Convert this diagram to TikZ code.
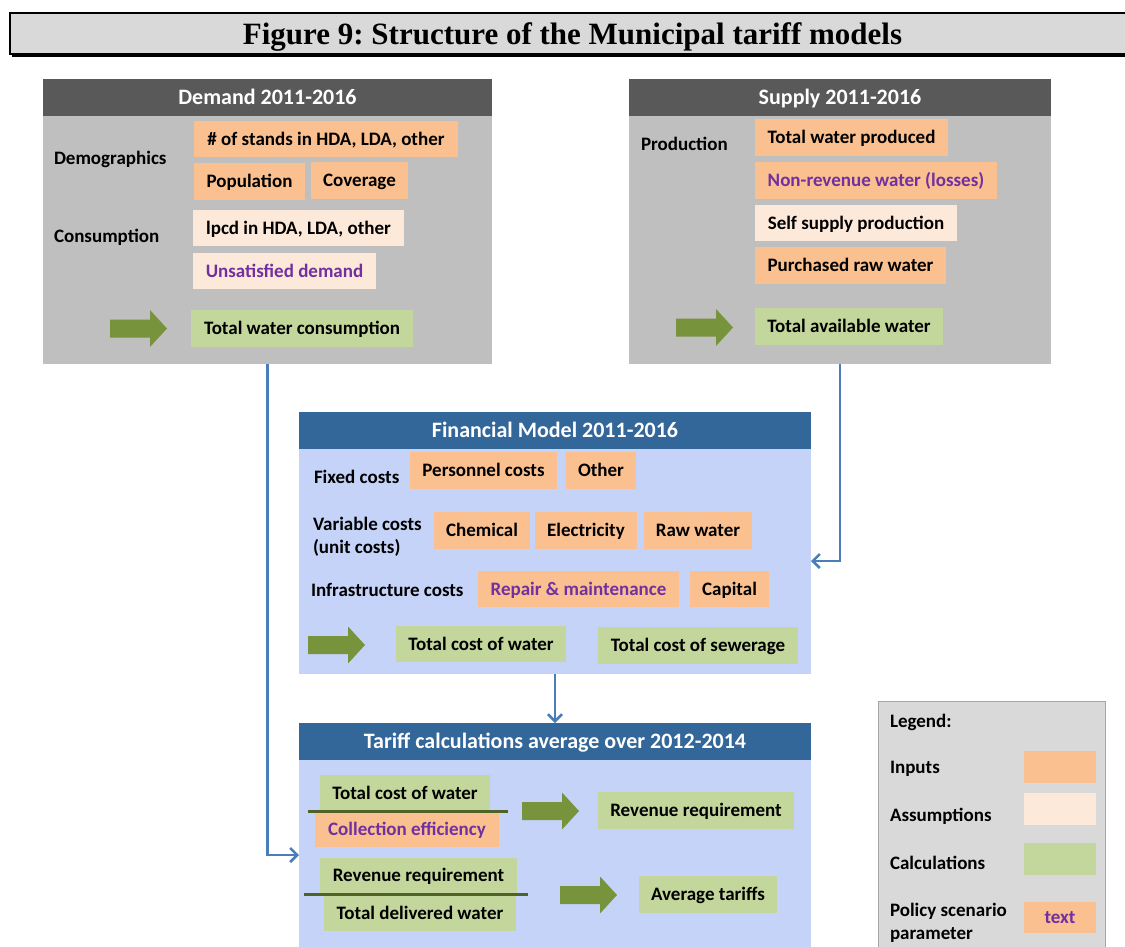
\documentclass[tikz,border=0pt]{standalone}
\usepackage{fontspec}
\setsansfont{Carlito}
\newfontfamily\bannerfont{Liberation Serif}
\usetikzlibrary{arrows.meta,shadows}
\frenchspacing

\definecolor{hdrgray}{HTML}{595959}
\definecolor{bodygray}{HTML}{BFBFBF}
\definecolor{finhead}{HTML}{336699}
\definecolor{finbody}{HTML}{C5D3F8}
\definecolor{inputc}{HTML}{FAC090}
\definecolor{assumc}{HTML}{FDE9D9}
\definecolor{calcc}{HTML}{C3D69B}
\definecolor{arrowc}{HTML}{77933C}
\definecolor{policyc}{HTML}{7030A0}
\definecolor{connblue}{HTML}{4A7EBB}
\definecolor{fracc}{HTML}{4F6228}
\definecolor{titlegray}{HTML}{D9D9D9}
\definecolor{legendborder}{HTML}{A6A6A6}

\tikzset{
  pics/blockarrow/.style={code={
    \fill[arrowc] (0,-9) -- ({#1-17},-9) -- ({#1-17},-18.5) -- (#1,0)
      -- ({#1-17},18.5) -- ({#1-17},9) -- (0,9) -- cycle;}},
}

\begin{document}
\begin{tikzpicture}[x=1pt,y=-1pt,
  bodyfont/.style={font=\fontsize{19}{23}\selectfont\sffamily\bfseries},
  panel/.style={anchor=north west, inner sep=0pt, outer sep=0pt},
  head/.style={panel, minimum height=37, text=white,
    font=\fontsize{22}{26}\selectfont\sffamily\bfseries, text height=14pt, text depth=0pt},
  cell/.style={anchor=north west, inner sep=0pt, outer sep=0pt, bodyfont,
    text height=12.5pt, text depth=0pt},
  inp/.style={cell, fill=inputc},
  asm/.style={cell, fill=assumc},
  calcbox/.style={cell, fill=calcc},
  policy/.style={text=policyc},
  lbl/.style={anchor=west, inner sep=0pt, outer sep=0pt, bodyfont,
    text height=12.5pt, text depth=0pt},
  lbltwo/.style={anchor=west, inner sep=0pt, outer sep=0pt, bodyfont, align=left},
  conn/.style={draw=connblue, line width=2.5pt, -{Straight Barb[length=7pt,width=14pt]}},
  fracline/.style={draw=fracc, line width=3pt},
]
\useasboundingbox (0,0) rectangle (1125,946);
\clip (0,0) rectangle (1125,946);

% title banner
\node[panel, minimum width=1125, minimum height=41, draw=black, line width=2pt,
  fill=titlegray, drop shadow={shadow xshift=2pt, shadow yshift=-3pt, fill=black, opacity=1},
  font=\fontsize{31}{34}\selectfont\bannerfont\bfseries, text height=21pt, text depth=0pt]
  (title) at (10,13)
  {Figure 9: Structure of the Municipal tariff models};

% ---------- Demand panel ----------
\node[panel, fill=bodygray, minimum width=449, minimum height=285] (demand) at (43,79) {};
\node[head, fill=hdrgray, minimum width=449] (demandhead) at (43,79) {Demand 2011-2016};
\node[lbl] (demog) at (54,158) {Demographics};
\node[lbl] (consum) at (54,236) {Consumption};
\node[inp, minimum width=264, minimum height=36] (stands) at (194,121) {\# of stands in HDA, LDA, other};
\node[inp, minimum width=111, minimum height=37] (pop) at (194,163) {Population};
\node[inp, minimum width=97, minimum height=37] (cov) at (311,162) {Coverage};
\node[asm, minimum width=211, minimum height=36] (lpcd) at (193,210) {lpcd in HDA, LDA, other};
\node[asm, policy, minimum width=183, minimum height=36] (unsat) at (193,253) {Unsatisfied demand};
\pic (darrow) at (110,328.5) {blockarrow=57};
\node[calcbox, minimum width=222, minimum height=37] (twc) at (191,310) {Total water consumption};

% ---------- Supply panel ----------
\node[panel, fill=bodygray, minimum width=422, minimum height=285] (supply) at (629,79) {};
\node[head, fill=hdrgray, minimum width=422] (supplyhead) at (629,79) {Supply 2011-2016};
\node[lbl] (prod) at (641,144) {Production};
\node[inp, minimum width=193, minimum height=37] (twp) at (755,119) {Total water produced};
\node[inp, policy, minimum width=242, minimum height=37] (nrw) at (755,162) {Non-revenue water (losses)};
\node[asm, minimum width=202, minimum height=36] (ssp) at (755,205) {Self supply production};
\node[inp, minimum width=191, minimum height=37] (prw) at (755,247) {Purchased raw water};
\pic (sarrow) at (676,327.5) {blockarrow=57};
\node[calcbox, minimum width=188, minimum height=37] (taw) at (755,308) {Total available water};

% ---------- Financial model panel ----------
\node[panel, fill=finbody, minimum width=512, minimum height=262] (fin) at (299,412) {};
\node[head, fill=finhead, minimum width=512] (finheadbox) at (299,412) {Financial Model 2011-2016};
\node[lbl] (fixed) at (314,477) {Fixed costs};
\node[lbltwo] (variable) at (313,537) {Variable costs\\(unit costs)};
\node[lbl] (infra) at (311,590) {Infrastructure costs};
\node[inp, minimum width=147, minimum height=37] (pers) at (410,452) {Personnel costs};
\node[inp, minimum width=70, minimum height=37] (other) at (566,452) {Other};
\node[inp, minimum width=96, minimum height=37] (chem) at (434,512) {Chemical};
\node[inp, minimum width=102, minimum height=37] (elec) at (535,512) {Electricity};
\node[inp, minimum width=108, minimum height=37] (raw) at (644,512) {Raw water};
\node[inp, policy, minimum width=201, minimum height=36] (repair) at (478,571) {Repair \& maintenance};
\node[inp, minimum width=79, minimum height=36] (capital) at (690,571) {Capital};
\pic (farrow) at (308,645) {blockarrow=57};
\node[calcbox, minimum width=170, minimum height=36] (tcw) at (396,626) {Total cost of water};
\node[calcbox, minimum width=200, minimum height=37] (tcs) at (598,627) {Total cost of sewerage};

% ---------- Tariff panel ----------
\node[panel, fill=finbody, minimum width=512, minimum height=240] (tariff) at (299,723) {};
\node[head, fill=finhead, minimum width=512] (tariffhead) at (299,723) {Tariff calculations average over 2012-2014};
\node[calcbox, minimum width=170, minimum height=36] (tcwb) at (320,775) {Total cost of water};
\node[inp, policy, minimum width=184, minimum height=35] (coll) at (315,812) {Collection efficiency};
\draw[fracline] (308,811) -- (507.5,811);
\pic (tarrowa) at (522,811) {blockarrow=57};
\node[calcbox, minimum width=196, minimum height=37] (rr) at (598,792) {Revenue requirement};
\node[calcbox, minimum width=197, minimum height=35] (rrb) at (320,858) {Revenue requirement};
\node[calcbox, minimum width=192, minimum height=36] (tdw) at (324,895) {Total delivered water};
\draw[fracline] (304,894) -- (527.5,894);
\pic (tarrowb) at (560,895) {blockarrow=57};
\node[calcbox, minimum width=138, minimum height=37] (avg) at (639,876) {Average tariffs};

% ---------- Legend ----------
\node[panel, fill=titlegray, draw=legendborder, line width=1pt,
  minimum width=227, minimum height=260] (legend) at (878,701) {};
\node[lbl] (legtitle) at (890,721) {Legend:};
\node[lbl] (leginp) at (890,767) {Inputs};
\node[lbl] (legasm) at (890,815) {Assumptions};
\node[lbl] (legcalc) at (890,863) {Calculations};
\node[lbltwo] (legpol) at (890,923) {Policy scenario\\parameter};
\node[inp, minimum width=72, minimum height=32] (swinp) at (1024,751) {};
\node[asm, minimum width=72, minimum height=32] (swasm) at (1024,793) {};
\node[calcbox, minimum width=72, minimum height=32] (swcalc) at (1024,843) {};
\node[inp, policy, minimum width=72, minimum height=31] (swpol) at (1024,902) {text};

% ---------- Connectors ----------
\coordinate (finin) at (811,561);
\coordinate (tarin) at (299,855);
\draw[conn] (demand.south) |- (tarin);
\draw[conn] (supply.south) |- (finin);
\draw[conn] (fin.south) -- (tariff.north);
\end{tikzpicture}
\end{document}
